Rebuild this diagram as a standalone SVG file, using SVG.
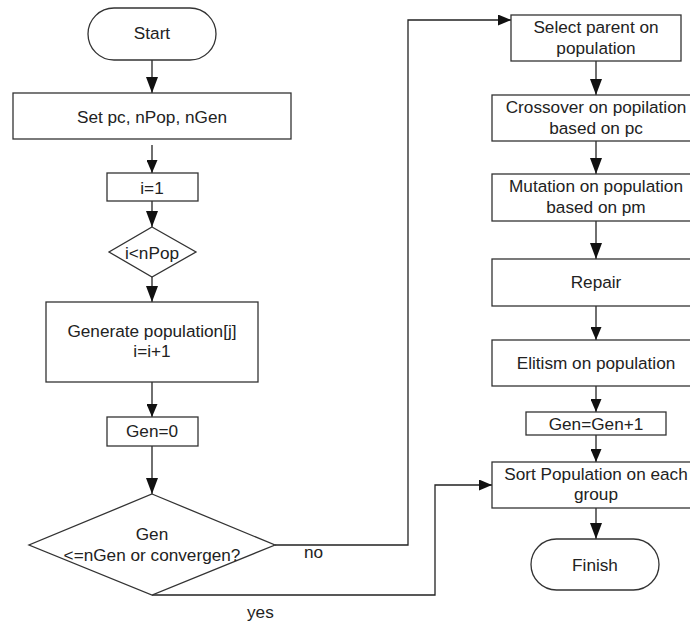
<svg xmlns="http://www.w3.org/2000/svg" width="690" height="622" viewBox="0 0 690 622">
<style>
.s{fill:#fff;stroke:#333;stroke-width:1.3}
.c{fill:none;stroke:#222;stroke-width:1.3}
text{font-family:"Liberation Sans",Arial,Helvetica,sans-serif;font-size:17.2px;fill:#222;text-anchor:middle}
.l{text-anchor:start}
</style>
<defs>
<marker id="ab" markerUnits="userSpaceOnUse" markerWidth="16" markerHeight="12" refX="16" refY="6" orient="auto"><path d="M0,0 L16,6 L0,12 Z" fill="#111"/></marker>
<marker id="as" markerUnits="userSpaceOnUse" markerWidth="13" markerHeight="11" refX="13" refY="5.5" orient="auto"><path d="M0,0 L13,5.5 L0,11 Z" fill="#111"/></marker>
</defs>
<rect width="690" height="622" fill="#fff"/>
<g id="connectors">
<path class="c" d="M152,60 V93" marker-end="url(#ab)"/>
<path class="c" d="M152,145 V173" marker-end="url(#as)"/>
<path class="c" d="M152,201 V227" marker-end="url(#ab)"/>
<path class="c" d="M152,277 V302" marker-end="url(#ab)"/>
<path class="c" d="M152,382 V417" marker-end="url(#as)"/>
<path class="c" d="M152,446 V494" marker-end="url(#ab)"/>
<path class="c" d="M275,545 H408 V20 H511" marker-end="url(#as)"/>
<path class="c" d="M152,595 H435 V485 H492" marker-end="url(#as)"/>
<path class="c" d="M596,61 V95" marker-end="url(#ab)"/>
<path class="c" d="M596,141 V174" marker-end="url(#ab)"/>
<path class="c" d="M596,221 V259" marker-end="url(#ab)"/>
<path class="c" d="M596,306 V340" marker-end="url(#as)"/>
<path class="c" d="M596,386 V412" marker-end="url(#as)"/>
<path class="c" d="M596,435 V462" marker-end="url(#as)"/>
<path class="c" d="M596,508 V539" marker-end="url(#ab)"/>
<text class="l" x="304" y="558">no</text>
<text class="l" x="247" y="618">yes</text>
</g>
<g id="start"><rect class="s" x="88" y="8" width="128" height="52" rx="26"/><text x="152" y="39">Start</text></g>
<g id="set"><rect class="s" x="13" y="93" width="278" height="46"/><text x="152" y="123">Set pc, nPop, nGen</text></g>
<g id="i1"><rect class="s" x="107" y="173" width="91" height="28"/><text x="152" y="194">i=1</text></g>
<g id="cond1"><path class="s" d="M152,227 L196,252 L152,277 L109,252 Z"/><text x="152" y="259">i&lt;nPop</text></g>
<g id="generate"><rect class="s" x="46" y="302" width="212" height="80"/><text x="152" y="337">Generate population[j]</text><text x="152" y="357">i=i+1</text></g>
<g id="gen0"><rect class="s" x="107" y="417" width="91" height="29"/><text x="152" y="437">Gen=0</text></g>
<g id="cond2"><path class="s" d="M152,494 L275,545 L152,595 L29,545 Z"/><text x="152" y="540">Gen</text><text x="152" y="561">&lt;=nGen or convergen?</text></g>
<g id="select"><rect class="s" x="511" y="15" width="170" height="46"/><text x="596" y="33">Select parent on</text><text x="596" y="54">population</text></g>
<g id="crossover"><rect class="s" x="492" y="95" width="210" height="46"/><text x="596" y="113">Crossover on popilation</text><text x="596" y="134">based on pc</text></g>
<g id="mutation"><rect class="s" x="492" y="174" width="210" height="47"/><text x="596" y="192">Mutation on population</text><text x="596" y="213">based on pm</text></g>
<g id="repair"><rect class="s" x="492" y="259" width="210" height="47"/><text x="596" y="288">Repair</text></g>
<g id="elitism"><rect class="s" x="492" y="340" width="210" height="46"/><text x="596" y="369">Elitism on population</text></g>
<g id="genplus"><rect class="s" x="526" y="412" width="140" height="23"/><text x="596" y="430">Gen=Gen+1</text></g>
<g id="sort"><rect class="s" x="492" y="462" width="210" height="46"/><text x="596" y="480">Sort Population on each</text><text x="596" y="500">group</text></g>
<g id="finish"><rect class="s" x="531" y="539" width="128" height="51" rx="25.5"/><text x="595" y="571">Finish</text></g>
</svg>
